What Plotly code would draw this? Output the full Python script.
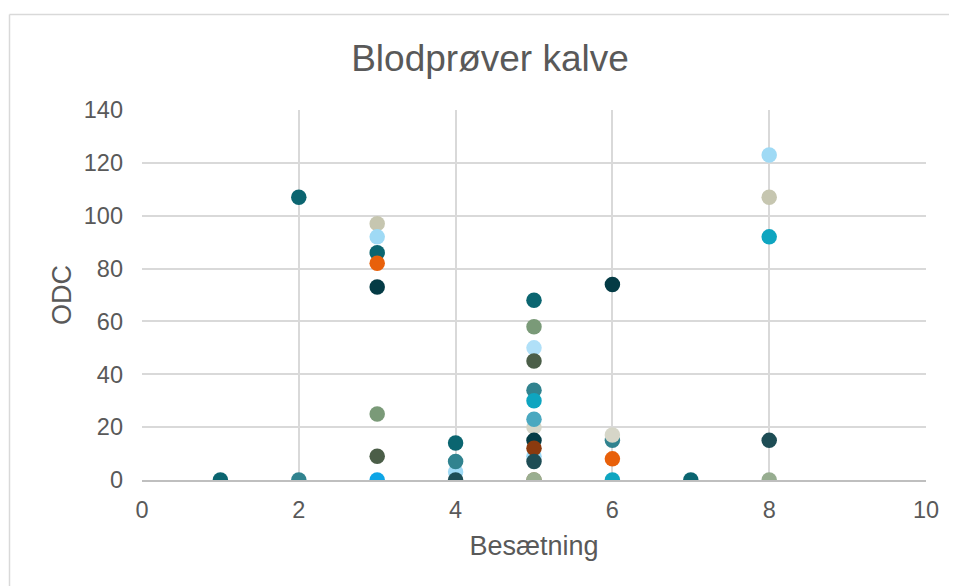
import plotly.graph_objects as go

# Data (drawn in order; later points sit on top)
besaetning = [1, 2, 2,
              3, 3, 3, 3, 3, 3, 3, 3,
              4, 4, 4, 4,
              5, 5, 5, 5, 5, 5, 5, 5, 5, 5, 5, 5, 5, 5,
              6, 6, 6, 6, 6,
              7,
              8, 8, 8, 8, 8]
odc = [0, 107, 0,
       97, 92, 86, 82, 73, 25, 9, 0,
       14, 3, 7, 0,
       68, 58, 50, 45, 34, 30, 20, 23, 15, 9, 12, 7, 0, 0,
       74, 15, 17, 8, 0,
       0,
       123, 107, 92, 15, 0]
point_colors = ["#0b6570", "#0b6570", "#31838f",
                "#c6c6b0", "#9fdaf5", "#0b6570", "#e8600a", "#043b45", "#7a9a78", "#4b5e48", "#0ea5e6",
                "#0b6570", "#9fdaf5", "#31838f", "#1e4d55",
                "#0b6570", "#7a9a78", "#b0e0f8", "#4b5e48", "#31838f", "#0ea5c0", "#d6d6c8", "#4aa8c0",
                "#043b45", "#9fdaf5", "#8b3a0e", "#1e4d55", "#8b7a50", "#9aae90",
                "#043b45", "#31838f", "#d6d6c8", "#e8600a", "#0ea5c0",
                "#0b6570",
                "#9fdaf5", "#c6c6b0", "#0ea5c0", "#1e4d55", "#97ad90"]

x_ticks = [0, 2, 4, 6, 8, 10]
y_ticks = [0, 20, 40, 60, 80, 100, 120, 140]

TEXT = "#595959"
GRID = "#d9d9d9"
FONT = "Liberation Sans, Arial, sans-serif"

W, H = 957, 586
L, R, T, B = 134, 39, 102, 114
PW, PH = W - L - R, H - T - B

fig = go.Figure(go.Scatter(
    x=besaetning, y=odc, mode="markers",
    marker=dict(size=15.5, color=point_colors, line=dict(width=0)),
    hoverinfo="x+y", showlegend=False,
))

fx0, fx1 = (1.5 - L) / PW, (970 - L) / PW
fy0, fy1 = (H - B - 640) / PH, (H - B - 6.5) / PH
frame = dict(color=GRID, width=1.5)

fig.update_layout(
    width=W, height=H,
    margin=dict(l=L, r=R, t=T, b=B),
    paper_bgcolor="white", plot_bgcolor="white",
    font=dict(family=FONT, color=TEXT, size=23.5),
    title=dict(text="Blodprøver kalve", x=(490 - 8 - L) / PW, xref="paper",
               xanchor="center", y=1 - 50 / H, yanchor="middle",
               font=dict(size=37, color=TEXT, family=FONT)),
    xaxis=dict(range=[0, 10], tickvals=x_ticks, showgrid=True, gridcolor=GRID, gridwidth=1.5,
               zeroline=False, showline=True, linecolor="#bfbfbf", linewidth=1.5,
               ticks="", ticklabelstandoff=8,
               title=dict(text="Besætning", font=dict(size=27, color=TEXT), standoff=14)),
    yaxis=dict(range=[0, 140], tickvals=y_ticks, showgrid=True, gridcolor=GRID, gridwidth=1.5,
               zeroline=False, showline=False, ticks="", ticklabelstandoff=18,
               title=dict(text="ODC", font=dict(size=27, color=TEXT), standoff=4)),
    shapes=[
        dict(type="line", xref="paper", yref="paper", x0=fx0, x1=fx1, y0=fy1, y1=fy1,
             line=frame, layer="below"),
        dict(type="line", xref="paper", yref="paper", x0=fx0, x1=fx0, y0=fy0, y1=fy1,
             line=frame, layer="below"),
    ],
)

fig.write_html("out.html",
               post_script="document.documentElement.style.overflow='hidden';"
                           "document.body.style.overflow='hidden';")
